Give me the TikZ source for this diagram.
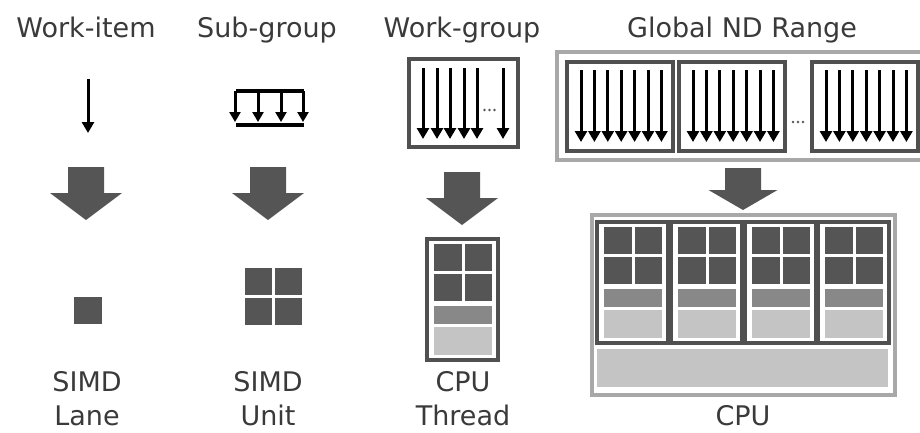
\documentclass[tikz,border=0pt]{standalone}
\usepackage{fontspec}
\setmainfont{DejaVu Sans}
\usetikzlibrary{arrows.meta}
\definecolor{txtgray}{HTML}{3A3A3A}
\definecolor{darkgray}{HTML}{555555}
\definecolor{framegray}{HTML}{505050}
\definecolor{midgray}{HTML}{888888}
\definecolor{lightgray}{HTML}{C4C4C4}
\definecolor{outergray}{HTML}{A8A8A8}
\tikzset{
  lbl/.style={anchor=base, text=txtgray, font=\fontsize{27}{32}\selectfont, inner sep=0pt},
  thinarr/.style={line width=3pt, -{Triangle[width=12pt,length=11pt]}, black},
  bar/.style={line width=3.2pt, black},
  darkframe/.style={draw=framegray, line width=3.2pt, fill=white},
  lightframe/.style={draw=outergray, line width=3.2pt, fill=white},
  cell/.style={fill=darkgray},
  midcell/.style={fill=midgray},
  lightcell/.style={fill=lightgray},
  dotfill/.style={fill=darkgray},
  bigarr/.pic={\fill[darkgray] (-18,0) -- (18,0) -- (18,26) -- (36,26) -- (0,53) -- (-36,26) -- (-18,26) -- cycle;},
  smallbigarr/.pic={\fill[darkgray] (-18,0) -- (18,0) -- (18,22) -- (34.5,22) -- (0,42) -- (-34.5,22) -- (-18,22) -- cycle;},
  thread/.pic={
    \draw[darkframe] (0,0) rectangle (71,121);
    \fill[cell] (7,5) rectangle (34.5,32);
    \fill[cell] (37.5,5) rectangle (65,32);
    \fill[cell] (7,35) rectangle (34.5,62);
    \fill[cell] (37.5,35) rectangle (65,62);
    \fill[midcell] (7,67) rectangle (65,85);
    \fill[lightcell] (7,88) rectangle (65,116);
  }
}
\begin{document}
\begin{tikzpicture}[x=1pt,y=-1pt]
\useasboundingbox (0,0) rectangle (920,432);
\fill[white] (0,0) rectangle (920,432);

% headings
\node[lbl] (hwi) at (86,37) {Work-item};
\node[lbl] (hsg) at (267,37) {Sub-group};
\node[lbl] (hwg) at (462,37) {Work-group};
\node[lbl] (hgr) at (742,37) {Global ND Range};

% work-item
\draw[thinarr] (88,79) -- (88,133);

% sub-group
\draw[bar] (236,91) -- (304,91);
\draw[bar] (236,125) -- (304,125);
\foreach \x in {235,258,281,303} \draw[thinarr, -{Triangle[width=11pt,length=10pt]}] (\x,91) -- (\x,122);

% work-group
\draw[darkframe] (409,59) rectangle (518,147);
\foreach \x in {423,437,450,464,477,503} \draw[thinarr] (\x,68) -- (\x,139);
\foreach \x in {484.5,489.5,494.5} \fill[dotfill] (\x,110) circle (1.4);

% global ND range
\draw[lightframe] (557,52) rectangle (924,160);
\foreach \bx in {567,679,812} {
  \draw[darkframe] (\bx,62) rectangle ++(106,89);
  \foreach \i in {0,...,6} \draw[thinarr] (\bx+14+13.4*\i,70) -- (\bx+14+13.4*\i,142);
}
\foreach \x in {793,798,803} \fill[dotfill] (\x,122) circle (1.4);

% big arrows
\pic at (86,167) {bigarr};
\pic at (268,167) {bigarr};
\pic at (462,172) {bigarr};
\pic at (743,168) {smallbigarr};

% SIMD lane
\fill[cell] (74,297) rectangle (102,324);
% SIMD unit
\fill[cell] (245,268) rectangle (272,295);
\fill[cell] (275,268) rectangle (302,295);
\fill[cell] (245,298) rectangle (272,325);
\fill[cell] (275,298) rectangle (302,325);

% CPU thread
\pic at (427,239) {thread};

% CPU
\draw[lightframe] (592,215) rectangle (895,395);
\foreach \tx in {597,671,745,818} \pic at (\tx,222) {thread};
\fill[lightcell] (597,349) rectangle (888,387);

% bottom labels
\node[lbl] (l1a) at (87,391) {SIMD};
\node[lbl] (l1b) at (87,425) {Lane};
\node[lbl] (l2a) at (268,391) {SIMD};
\node[lbl] (l2b) at (268,425) {Unit};
\node[lbl] (l3a) at (463,391) {CPU};
\node[lbl] (l3b) at (463,425) {Thread};
\node[lbl] (l4) at (743,425) {CPU};
\end{tikzpicture}
\end{document}
